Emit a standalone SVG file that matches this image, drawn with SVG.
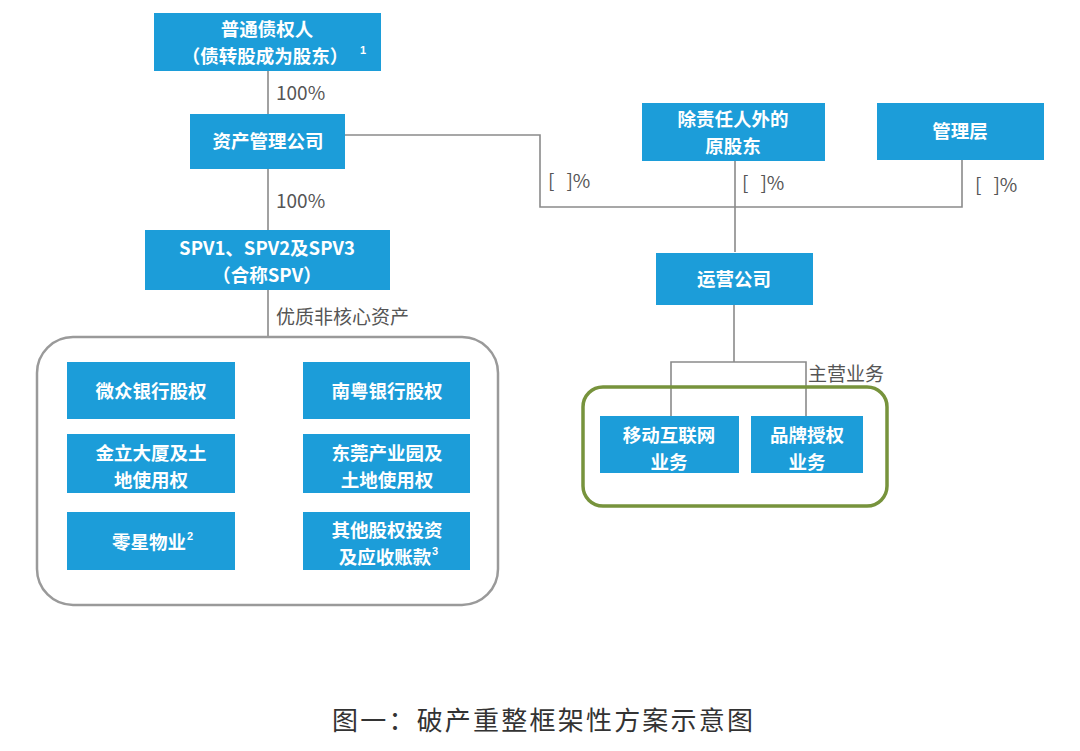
<svg xmlns="http://www.w3.org/2000/svg" width="1080" height="751" viewBox="0 0 1080 751">
<style>
.box{fill:#1c9dd9;}
.t{font-family:"Noto Sans CJK SC","Liberation Sans",sans-serif;font-size:18.5px;font-weight:bold;fill:#ffffff;text-anchor:middle;}
.sup{font-family:"Liberation Sans",sans-serif;font-size:11px;font-weight:bold;fill:#ffffff;}
.lbl{font-family:"Noto Sans CJK SC","Liberation Sans",sans-serif;font-size:19px;fill:#555555;}
.ln{fill:none;stroke:#8a8a8a;stroke-width:1.6;}
</style>
<rect width="1080" height="751" fill="#ffffff"/>
<g id="connectors">
<path class="ln" d="M268 71 V114"/>
<path class="ln" d="M268 169 V230"/>
<path class="ln" d="M268 290 V337"/>
<path class="ln" d="M345 135 H540 V207 H962 V160"/>
<path class="ln" d="M735 161 V252"/>
<path class="ln" d="M734 305 V362"/>
<path class="ln" d="M671 417 V362 H806 V417"/>
<text class="lbl" x="276" y="100">100%</text>
<text class="lbl" x="276" y="208">100%</text>
<text class="lbl" x="276" y="324">优质非核心资产</text>
<text class="lbl" x="548" y="188">[<tspan dx="12">]%</tspan></text>
<text class="lbl" x="742" y="190">[<tspan dx="12">]%</tspan></text>
<text class="lbl" x="975" y="192">[<tspan dx="12">]%</tspan></text>
<text class="lbl" x="808" y="381">主营业务</text>
</g>
<g id="group-spv-assets">
<rect x="37" y="337" width="461" height="268" rx="36" fill="#ffffff" stroke="#9a9a9a" stroke-width="2.5"/>
</g>
<g id="group-main-business">
<rect x="583" y="387" width="304" height="119" rx="20" fill="none" stroke="#77933c" stroke-width="3.5"/>
</g>
<g id="n-creditors">
<rect class="box" x="154" y="13" width="227" height="58"/>
<text class="t" x="267" y="36">普通债权人</text>
<text class="t" x="265" y="63">（债转股成为股东）</text>
<text class="sup" x="360" y="54">1</text>
</g>
<g id="n-amc">
<rect class="box" x="190" y="114" width="155" height="55"/>
<text class="t" x="268" y="148">资产管理公司</text>
</g>
<g id="n-spv">
<rect class="box" x="145" y="230" width="245" height="60"/>
<text class="t" x="267" y="255">SPV1、SPV2及SPV3</text>
<text class="t" x="267" y="282">（合称SPV）</text>
</g>
<g id="n-orig-holders">
<rect class="box" x="642" y="103" width="183" height="58"/>
<text class="t" x="733" y="126">除责任人外的</text>
<text class="t" x="733" y="153">原股东</text>
</g>
<g id="n-mgmt">
<rect class="box" x="877" y="103" width="167" height="57"/>
<text class="t" x="960" y="138">管理层</text>
</g>
<g id="n-opco">
<rect class="box" x="656" y="253" width="157" height="52"/>
<text class="t" x="734" y="286">运营公司</text>
</g>
<g id="n-mobile">
<rect class="box" x="600" y="416" width="139" height="57"/>
<text class="t" x="669" y="442">移动互联网</text>
<text class="t" x="669" y="469">业务</text>
</g>
<g id="n-brand">
<rect class="box" x="751" y="416" width="112" height="57"/>
<text class="t" x="807" y="442">品牌授权</text>
<text class="t" x="807" y="469">业务</text>
</g>
<g id="n-webank">
<rect class="box" x="67" y="362" width="168" height="57"/>
<text class="t" x="151" y="398">微众银行股权</text>
</g>
<g id="n-jinli">
<rect class="box" x="67" y="434" width="168" height="59"/>
<text class="t" x="151" y="460">金立大厦及土</text>
<text class="t" x="151" y="487">地使用权</text>
</g>
<g id="n-scattered">
<rect class="box" x="67" y="512" width="168" height="58"/>
<text class="t" x="149" y="549">零星物业</text>
<text class="sup" x="187" y="540">2</text>
</g>
<g id="n-nanyue">
<rect class="box" x="303" y="362" width="167" height="57"/>
<text class="t" x="387" y="398">南粤银行股权</text>
</g>
<g id="n-dongguan">
<rect class="box" x="303" y="434" width="167" height="59"/>
<text class="t" x="387" y="460">东莞产业园及</text>
<text class="t" x="387" y="487">土地使用权</text>
</g>
<g id="n-other">
<rect class="box" x="303" y="512" width="167" height="58"/>
<text class="t" x="387" y="537">其他股权投资</text>
<text class="t" x="385" y="564">及应收账款</text>
<text class="sup" x="432" y="555">3</text>
</g>
<text x="332" y="730" font-family="Noto Sans CJK SC, Liberation Sans, sans-serif" font-size="26" fill="#333333" textLength="421" lengthAdjust="spacing">图一：破产重整框架性方案示意图</text>
</svg>
